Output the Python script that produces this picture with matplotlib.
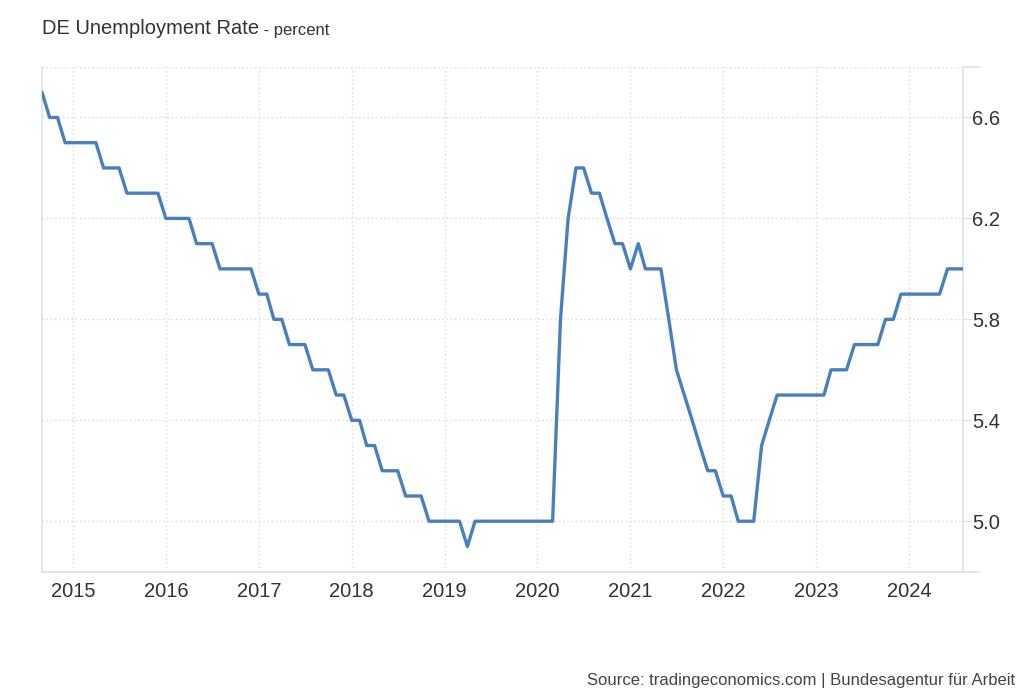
import matplotlib
matplotlib.use("Agg")
import matplotlib.pyplot as plt
import matplotlib.dates as mdates
import pandas as pd
import numpy as np

plt.rcParams['font.family'] = ['Liberation Sans', 'DejaVu Sans']

start_month = "2014-09-01"
end_month = "2024-08-01"
rate = [
    6.7, 6.6, 6.6,
    6.5, 6.5, 6.5, 6.5, 6.5,
    6.4, 6.4, 6.4,
    6.3, 6.3, 6.3, 6.3, 6.3,
    6.2, 6.2, 6.2, 6.2,
    6.1, 6.1, 6.1,
    6.0, 6.0, 6.0, 6.0, 6.0,
    5.9, 5.9,
    5.8, 5.8,
    5.7, 5.7, 5.7,
    5.6, 5.6, 5.6,
    5.5, 5.5,
    5.4, 5.4,
    5.3, 5.3,
    5.2, 5.2, 5.2,
    5.1, 5.1, 5.1,
    5.0, 5.0, 5.0, 5.0, 5.0,
    4.9,
    5.0, 5.0, 5.0, 5.0, 5.0, 5.0, 5.0, 5.0, 5.0, 5.0, 5.0,
    5.8, 6.2, 6.4, 6.4, 6.3, 6.3, 6.2, 6.1, 6.1, 6.0, 6.1,
    6.0, 6.0, 6.0,
    5.8, 5.6, 5.5, 5.4, 5.3, 5.2, 5.2, 5.1, 5.1,
    5.0, 5.0, 5.0,
    5.3, 5.4,
    5.5, 5.5, 5.5, 5.5, 5.5, 5.5, 5.5,
    5.6, 5.6, 5.6,
    5.7, 5.7, 5.7, 5.7,
    5.8, 5.8,
    5.9, 5.9, 5.9, 5.9, 5.9, 5.9,
    6.0, 6.0, 6.0,
]
dates = pd.date_range(start_month, end_month, freq="MS")
y_ticks = [5.0, 5.4, 5.8, 6.2, 6.6]
year_ticks = list(range(2015, 2025))

title_main = "DE Unemployment Rate"
title_unit = " - percent"
source_text = "Source: tradingeconomics.com | Bundesagentur für Arbeit"

line_color = "#4a7fbf"
grid_color = "#d8d8d8"
spine_color = "#e2e2e2"
text_color = "#333333"

fig = plt.figure(figsize=(10.24, 7.0), dpi=100)
ax = fig.add_axes([42/1024, 1-571.7/700, (963-42)/1024, (571.7-67)/700])

ax.plot(dates, rate, color=line_color, linewidth=2.4,
        solid_joinstyle='round', solid_capstyle='round', zorder=3)

ax.set_xlim(dates[0], dates[-1])
ax.set_ylim(4.8, 6.8)

ax.set_xticks([pd.Timestamp(f"{y}-01-01") for y in year_ticks])
ax.xaxis.set_major_formatter(mdates.DateFormatter("%Y"))
ax.set_yticks(y_ticks)
ax.set_yticklabels([f"{v:.1f}" for v in y_ticks])
ax.yaxis.tick_right()

ax.tick_params(axis='x', length=0, pad=7.5, labelsize=14.5, labelcolor=text_color)
ax.tick_params(axis='y', length=6, width=1, color=spine_color, pad=0.5,
               labelsize=14.5, labelcolor=text_color)

ax.grid(True, which='major', color=grid_color, linestyle=(0, (1, 2)), linewidth=1)
# top gridline at 6.8
ax.axhline(6.8, color=grid_color, linestyle=(0, (1, 2)), linewidth=1)

for s in ['top']:
    ax.spines[s].set_visible(False)
for s in ['left', 'right', 'bottom']:
    ax.spines[s].set_color(spine_color)
    ax.spines[s].set_linewidth(1.2)

# small extensions beyond right spine (bottom axis and top stub)
ax.plot([1.0, 1.017], [0, 0], transform=ax.transAxes, color=spine_color,
        linewidth=1.2, clip_on=False)
ax.plot([1.0, 1.017], [1, 1], transform=ax.transAxes, color=spine_color,
        linewidth=1.2, clip_on=False)

fig.text(42/1024, 1-29/700, title_main, fontsize=14.5, color=text_color, va='center', ha='left')
# unit text placed right after the main title
r = fig.canvas.get_renderer()
t = fig.texts[0]
bb = t.get_window_extent(renderer=r)
fig.text(bb.x1/1024, 1-30/700, title_unit, fontsize=12, color=text_color, va='center', ha='left')

fig.text(1015/1024, 1-680/700, source_text, fontsize=12, color="#444444", va='center', ha='right')

fig.savefig("out.png", dpi=100, facecolor='white')
